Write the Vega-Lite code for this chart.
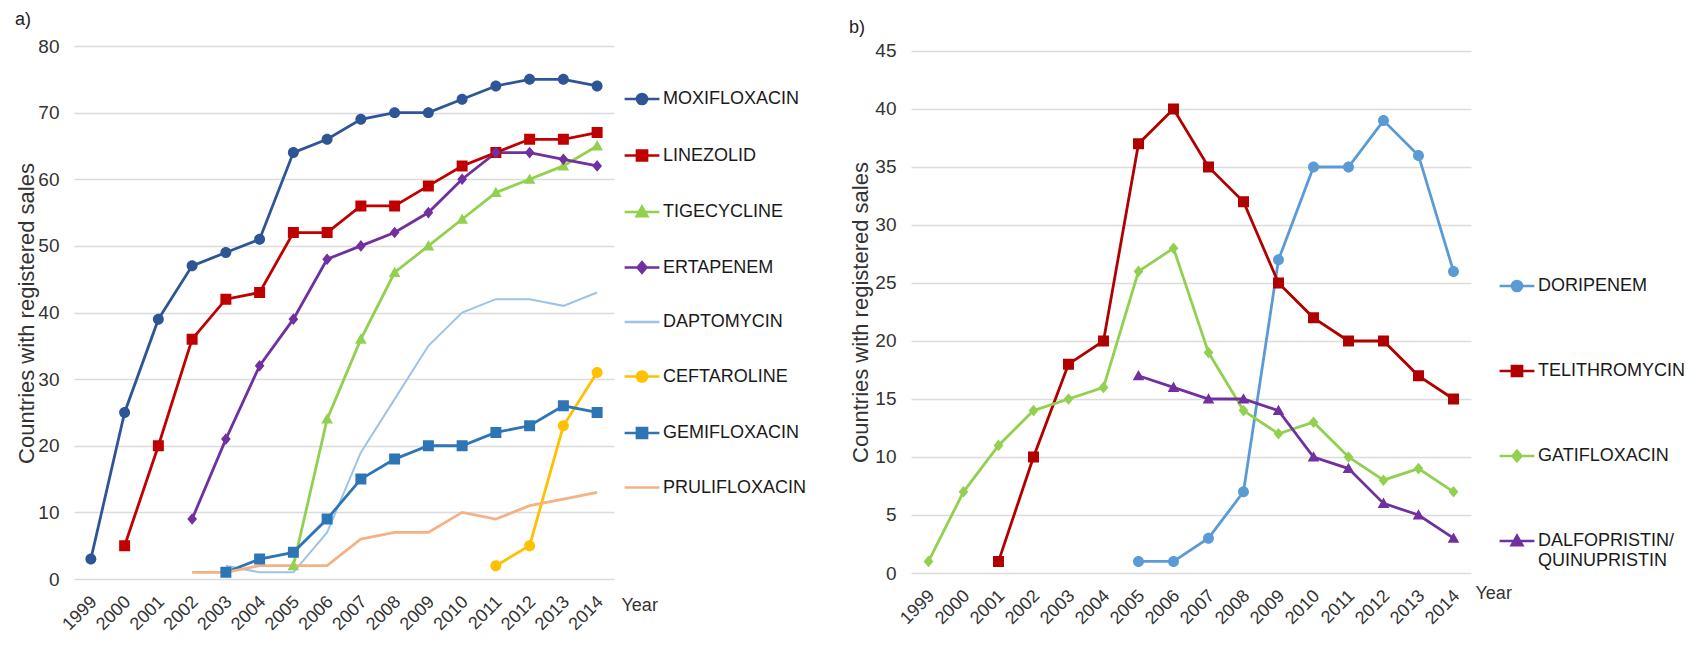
{
  "$schema": "https://vega.github.io/schema/vega-lite/v6.json",
  "padding": {"left": 15, "top": 11, "right": 0, "bottom": 0},
  "spacing": 42,
  "background": "white",
  "config": {
    "font": "Liberation Sans",
    "view": {"stroke": null},
    "axis": {"domain": false, "ticks": false, "labelColor": "#333333", "titleColor": "#333333", "titleFontWeight": "normal", "gridColor": "#dcdcdc", "gridWidth": 1.5},
    "title": {"fontWeight": "normal", "color": "#222222", "font": "Liberation Sans", "fontSize": 18, "anchor": "start", "frame": "bounds"}
  },
  "resolve": {"scale": {"color": "independent", "shape": "independent", "x": "independent", "y": "independent"}, "legend": {"color": "independent", "shape": "independent"}},
  "datasets": {
    "a": [
      {"drug": "MOXIFLOXACIN", "year": "1999", "n": 3}, {"drug": "MOXIFLOXACIN", "year": "2000", "n": 25}, {"drug": "MOXIFLOXACIN", "year": "2001", "n": 39}, {"drug": "MOXIFLOXACIN", "year": "2002", "n": 47}, {"drug": "MOXIFLOXACIN", "year": "2003", "n": 49}, {"drug": "MOXIFLOXACIN", "year": "2004", "n": 51}, {"drug": "MOXIFLOXACIN", "year": "2005", "n": 64}, {"drug": "MOXIFLOXACIN", "year": "2006", "n": 66}, {"drug": "MOXIFLOXACIN", "year": "2007", "n": 69}, {"drug": "MOXIFLOXACIN", "year": "2008", "n": 70}, {"drug": "MOXIFLOXACIN", "year": "2009", "n": 70}, {"drug": "MOXIFLOXACIN", "year": "2010", "n": 72}, {"drug": "MOXIFLOXACIN", "year": "2011", "n": 74}, {"drug": "MOXIFLOXACIN", "year": "2012", "n": 75}, {"drug": "MOXIFLOXACIN", "year": "2013", "n": 75}, {"drug": "MOXIFLOXACIN", "year": "2014", "n": 74},
      {"drug": "LINEZOLID", "year": "2000", "n": 5}, {"drug": "LINEZOLID", "year": "2001", "n": 20}, {"drug": "LINEZOLID", "year": "2002", "n": 36}, {"drug": "LINEZOLID", "year": "2003", "n": 42}, {"drug": "LINEZOLID", "year": "2004", "n": 43}, {"drug": "LINEZOLID", "year": "2005", "n": 52}, {"drug": "LINEZOLID", "year": "2006", "n": 52}, {"drug": "LINEZOLID", "year": "2007", "n": 56}, {"drug": "LINEZOLID", "year": "2008", "n": 56}, {"drug": "LINEZOLID", "year": "2009", "n": 59}, {"drug": "LINEZOLID", "year": "2010", "n": 62}, {"drug": "LINEZOLID", "year": "2011", "n": 64}, {"drug": "LINEZOLID", "year": "2012", "n": 66}, {"drug": "LINEZOLID", "year": "2013", "n": 66}, {"drug": "LINEZOLID", "year": "2014", "n": 67},
      {"drug": "TIGECYCLINE", "year": "2005", "n": 2}, {"drug": "TIGECYCLINE", "year": "2006", "n": 24}, {"drug": "TIGECYCLINE", "year": "2007", "n": 36}, {"drug": "TIGECYCLINE", "year": "2008", "n": 46}, {"drug": "TIGECYCLINE", "year": "2009", "n": 50}, {"drug": "TIGECYCLINE", "year": "2010", "n": 54}, {"drug": "TIGECYCLINE", "year": "2011", "n": 58}, {"drug": "TIGECYCLINE", "year": "2012", "n": 60}, {"drug": "TIGECYCLINE", "year": "2013", "n": 62}, {"drug": "TIGECYCLINE", "year": "2014", "n": 65},
      {"drug": "ERTAPENEM", "year": "2002", "n": 9}, {"drug": "ERTAPENEM", "year": "2003", "n": 21}, {"drug": "ERTAPENEM", "year": "2004", "n": 32}, {"drug": "ERTAPENEM", "year": "2005", "n": 39}, {"drug": "ERTAPENEM", "year": "2006", "n": 48}, {"drug": "ERTAPENEM", "year": "2007", "n": 50}, {"drug": "ERTAPENEM", "year": "2008", "n": 52}, {"drug": "ERTAPENEM", "year": "2009", "n": 55}, {"drug": "ERTAPENEM", "year": "2010", "n": 60}, {"drug": "ERTAPENEM", "year": "2011", "n": 64}, {"drug": "ERTAPENEM", "year": "2012", "n": 64}, {"drug": "ERTAPENEM", "year": "2013", "n": 63}, {"drug": "ERTAPENEM", "year": "2014", "n": 62},
      {"drug": "DAPTOMYCIN", "year": "2003", "n": 2}, {"drug": "DAPTOMYCIN", "year": "2004", "n": 1}, {"drug": "DAPTOMYCIN", "year": "2005", "n": 1}, {"drug": "DAPTOMYCIN", "year": "2006", "n": 7}, {"drug": "DAPTOMYCIN", "year": "2007", "n": 19}, {"drug": "DAPTOMYCIN", "year": "2008", "n": 27}, {"drug": "DAPTOMYCIN", "year": "2009", "n": 35}, {"drug": "DAPTOMYCIN", "year": "2010", "n": 40}, {"drug": "DAPTOMYCIN", "year": "2011", "n": 42}, {"drug": "DAPTOMYCIN", "year": "2012", "n": 42}, {"drug": "DAPTOMYCIN", "year": "2013", "n": 41}, {"drug": "DAPTOMYCIN", "year": "2014", "n": 43},
      {"drug": "CEFTAROLINE", "year": "2011", "n": 2}, {"drug": "CEFTAROLINE", "year": "2012", "n": 5}, {"drug": "CEFTAROLINE", "year": "2013", "n": 23}, {"drug": "CEFTAROLINE", "year": "2014", "n": 31},
      {"drug": "GEMIFLOXACIN", "year": "2003", "n": 1}, {"drug": "GEMIFLOXACIN", "year": "2004", "n": 3}, {"drug": "GEMIFLOXACIN", "year": "2005", "n": 4}, {"drug": "GEMIFLOXACIN", "year": "2006", "n": 9}, {"drug": "GEMIFLOXACIN", "year": "2007", "n": 15}, {"drug": "GEMIFLOXACIN", "year": "2008", "n": 18}, {"drug": "GEMIFLOXACIN", "year": "2009", "n": 20}, {"drug": "GEMIFLOXACIN", "year": "2010", "n": 20}, {"drug": "GEMIFLOXACIN", "year": "2011", "n": 22}, {"drug": "GEMIFLOXACIN", "year": "2012", "n": 23}, {"drug": "GEMIFLOXACIN", "year": "2013", "n": 26}, {"drug": "GEMIFLOXACIN", "year": "2014", "n": 25},
      {"drug": "PRULIFLOXACIN", "year": "2002", "n": 1}, {"drug": "PRULIFLOXACIN", "year": "2003", "n": 1}, {"drug": "PRULIFLOXACIN", "year": "2004", "n": 2}, {"drug": "PRULIFLOXACIN", "year": "2005", "n": 2}, {"drug": "PRULIFLOXACIN", "year": "2006", "n": 2}, {"drug": "PRULIFLOXACIN", "year": "2007", "n": 6}, {"drug": "PRULIFLOXACIN", "year": "2008", "n": 7}, {"drug": "PRULIFLOXACIN", "year": "2009", "n": 7}, {"drug": "PRULIFLOXACIN", "year": "2010", "n": 10}, {"drug": "PRULIFLOXACIN", "year": "2011", "n": 9}, {"drug": "PRULIFLOXACIN", "year": "2012", "n": 11}, {"drug": "PRULIFLOXACIN", "year": "2013", "n": 12}, {"drug": "PRULIFLOXACIN", "year": "2014", "n": 13}
    ],
    "b": [
      {"drug": "DORIPENEM", "year": "2005", "n": 1}, {"drug": "DORIPENEM", "year": "2006", "n": 1}, {"drug": "DORIPENEM", "year": "2007", "n": 3}, {"drug": "DORIPENEM", "year": "2008", "n": 7}, {"drug": "DORIPENEM", "year": "2009", "n": 27}, {"drug": "DORIPENEM", "year": "2010", "n": 35}, {"drug": "DORIPENEM", "year": "2011", "n": 35}, {"drug": "DORIPENEM", "year": "2012", "n": 39}, {"drug": "DORIPENEM", "year": "2013", "n": 36}, {"drug": "DORIPENEM", "year": "2014", "n": 26},
      {"drug": "TELITHROMYCIN", "year": "2001", "n": 1}, {"drug": "TELITHROMYCIN", "year": "2002", "n": 10}, {"drug": "TELITHROMYCIN", "year": "2003", "n": 18}, {"drug": "TELITHROMYCIN", "year": "2004", "n": 20}, {"drug": "TELITHROMYCIN", "year": "2005", "n": 37}, {"drug": "TELITHROMYCIN", "year": "2006", "n": 40}, {"drug": "TELITHROMYCIN", "year": "2007", "n": 35}, {"drug": "TELITHROMYCIN", "year": "2008", "n": 32}, {"drug": "TELITHROMYCIN", "year": "2009", "n": 25}, {"drug": "TELITHROMYCIN", "year": "2010", "n": 22}, {"drug": "TELITHROMYCIN", "year": "2011", "n": 20}, {"drug": "TELITHROMYCIN", "year": "2012", "n": 20}, {"drug": "TELITHROMYCIN", "year": "2013", "n": 17}, {"drug": "TELITHROMYCIN", "year": "2014", "n": 15},
      {"drug": "GATIFLOXACIN", "year": "1999", "n": 1}, {"drug": "GATIFLOXACIN", "year": "2000", "n": 7}, {"drug": "GATIFLOXACIN", "year": "2001", "n": 11}, {"drug": "GATIFLOXACIN", "year": "2002", "n": 14}, {"drug": "GATIFLOXACIN", "year": "2003", "n": 15}, {"drug": "GATIFLOXACIN", "year": "2004", "n": 16}, {"drug": "GATIFLOXACIN", "year": "2005", "n": 26}, {"drug": "GATIFLOXACIN", "year": "2006", "n": 28}, {"drug": "GATIFLOXACIN", "year": "2007", "n": 19}, {"drug": "GATIFLOXACIN", "year": "2008", "n": 14}, {"drug": "GATIFLOXACIN", "year": "2009", "n": 12}, {"drug": "GATIFLOXACIN", "year": "2010", "n": 13}, {"drug": "GATIFLOXACIN", "year": "2011", "n": 10}, {"drug": "GATIFLOXACIN", "year": "2012", "n": 8}, {"drug": "GATIFLOXACIN", "year": "2013", "n": 9}, {"drug": "GATIFLOXACIN", "year": "2014", "n": 7},
      {"drug": "DALFOPRISTIN/QUINUPRISTIN", "year": "2005", "n": 17}, {"drug": "DALFOPRISTIN/QUINUPRISTIN", "year": "2006", "n": 16}, {"drug": "DALFOPRISTIN/QUINUPRISTIN", "year": "2007", "n": 15}, {"drug": "DALFOPRISTIN/QUINUPRISTIN", "year": "2008", "n": 15}, {"drug": "DALFOPRISTIN/QUINUPRISTIN", "year": "2009", "n": 14}, {"drug": "DALFOPRISTIN/QUINUPRISTIN", "year": "2010", "n": 10}, {"drug": "DALFOPRISTIN/QUINUPRISTIN", "year": "2011", "n": 9}, {"drug": "DALFOPRISTIN/QUINUPRISTIN", "year": "2012", "n": 6}, {"drug": "DALFOPRISTIN/QUINUPRISTIN", "year": "2013", "n": 5}, {"drug": "DALFOPRISTIN/QUINUPRISTIN", "year": "2014", "n": 3}
    ]
  },
  "hconcat": [
    {
      "width": 540,
      "height": 533,
      "data": {"name": "a"},
      "title": {"text": "a)", "offset": 8},
      "encoding": {
        "x": {"field": "year", "type": "ordinal", "scale": {"type": "point", "padding": 0.5, "domain": ["1999","2000","2001","2002","2003","2004","2005","2006","2007","2008","2009","2010","2011","2012","2013","2014"]},
          "axis": {"title": "Year", "titleX": 547, "titleY": 31, "titleAlign": "left", "titleBaseline": "alphabetic", "titleFontSize": 18, "labelAngle": -45, "labelAlign": "right", "labelBaseline": "middle", "labelPadding": 20, "labelOffset": 3, "labelFontSize": 18, "grid": false}},
        "y": {"field": "n", "type": "quantitative", "scale": {"domain": [0, 80], "nice": false},
          "axis": {"title": "Countries with registered sales", "values": [0,10,20,30,40,50,60,70,80], "titleX": -41, "titleY": 267, "titleBaseline": "alphabetic", "titleFontSize": 22, "labelFontSize": 19, "labelPadding": 15, "grid": true}},
        "color": {"field": "drug", "type": "nominal",
          "scale": {"domain": ["MOXIFLOXACIN","LINEZOLID","TIGECYCLINE","ERTAPENEM","DAPTOMYCIN","CEFTAROLINE","GEMIFLOXACIN","PRULIFLOXACIN"], "range": ["#2F5597","#C00000","#92D050","#7030A0","#9DC3E6","#FFC000","#2E75B6","#F4B183"]},
          "legend": {"orient": "none", "legendX": 559, "legendY": 44, "title": null, "symbolSize": 144, "symbolStrokeWidth": 2.5, "labelFontSize": 18, "labelColor": "#1a1a1a", "labelOffset": 12, "rowPadding": 34.5, "labelLimit": 300}}
      },
      "layer": [
        {"mark": {"type": "line"},
         "encoding": {"strokeWidth": {"condition": {"test": "datum.drug === 'DAPTOMYCIN'", "value": 2}, "value": 2.8}}},
        {
          "mark": {"type": "point", "filled": true, "opacity": 1, "size": 167},
          "encoding": {
            "shape": {"field": "drug", "type": "nominal",
              "scale": {"domain": ["MOXIFLOXACIN","LINEZOLID","TIGECYCLINE","ERTAPENEM","DAPTOMYCIN","CEFTAROLINE","GEMIFLOXACIN","PRULIFLOXACIN"], "range": ["M-2.9,0H2.9M-0.85,0A0.85,0.85,0,1,0,0.85,0A0.85,0.85,0,1,0,-0.85,0Z","M-2.9,0H2.9M-0.85,-0.85H0.85V0.85H-0.85Z","M-2.9,0H2.9M0,-0.9L0.9,0.7H-0.9Z","M-2.9,0H2.9M0,-0.9L0.75,0L0,0.9L-0.75,0Z","M-2.9,0H2.9","M-2.9,0H2.9M-0.85,0A0.85,0.85,0,1,0,0.85,0A0.85,0.85,0,1,0,-0.85,0Z","M-2.9,0H2.9M-0.85,-0.85H0.85V0.85H-0.85Z","M-2.9,0H2.9"]}}
          }
        }
      ]
    },
    {
      "width": 560,
      "height": 527,
      "data": {"name": "b"},
      "title": {"text": "b)", "offset": 5},
      "encoding": {
        "x": {"field": "year", "type": "ordinal", "scale": {"type": "point", "padding": 0.5, "domain": ["1999","2000","2001","2002","2003","2004","2005","2006","2007","2008","2009","2010","2011","2012","2013","2014"]},
          "axis": {"title": "Year", "titleX": 564, "titleY": 25, "titleAlign": "left", "titleBaseline": "alphabetic", "titleFontSize": 18, "labelAngle": -45, "labelAlign": "right", "labelBaseline": "middle", "labelPadding": 20, "labelOffset": 3, "labelFontSize": 18, "grid": false}},
        "y": {"field": "n", "type": "quantitative", "scale": {"domain": [0, 45.43], "nice": false},
          "axis": {"title": "Countries with registered sales", "values": [0,5,10,15,20,25,30,35,40,45], "titleX": -44, "titleY": 266, "titleBaseline": "alphabetic", "titleFontSize": 22, "labelFontSize": 19, "labelPadding": 15, "grid": true}},
        "color": {"field": "drug", "type": "nominal",
          "scale": {"domain": ["DORIPENEM","TELITHROMYCIN","GATIFLOXACIN","DALFOPRISTIN/QUINUPRISTIN"], "range": ["#5B9BD5","#B00000","#92D050","#7030A0"]},
          "legend": {"orient": "none", "legendX": 597, "legendY": 231, "title": null, "symbolSize": 144, "symbolStrokeWidth": 2.5, "labelFontSize": 18, "labelColor": "#1a1a1a", "labelOffset": 12, "rowPadding": 63, "labelLimit": 300,
            "labelExpr": "datum.label == 'DALFOPRISTIN/QUINUPRISTIN' ? ['DALFOPRISTIN/', 'QUINUPRISTIN'] : datum.label"}}
      },
      "layer": [
        {"mark": {"type": "line", "strokeWidth": 2.8}},
        {
          "mark": {"type": "point", "filled": true, "opacity": 1, "size": 167},
          "encoding": {
            "shape": {"field": "drug", "type": "nominal",
              "scale": {"domain": ["DORIPENEM","TELITHROMYCIN","GATIFLOXACIN","DALFOPRISTIN/QUINUPRISTIN"], "range": ["M-2.9,0H2.9M-0.85,0A0.85,0.85,0,1,0,0.85,0A0.85,0.85,0,1,0,-0.85,0Z","M-2.9,0H2.9M-0.85,-0.85H0.85V0.85H-0.85Z","M-2.9,0H2.9M0,-0.9L0.75,0L0,0.9L-0.75,0Z","M-2.9,0H2.9M0,-0.9L0.9,0.7H-0.9Z"]}}
          }
        }
      ]
    }
  ]
}
